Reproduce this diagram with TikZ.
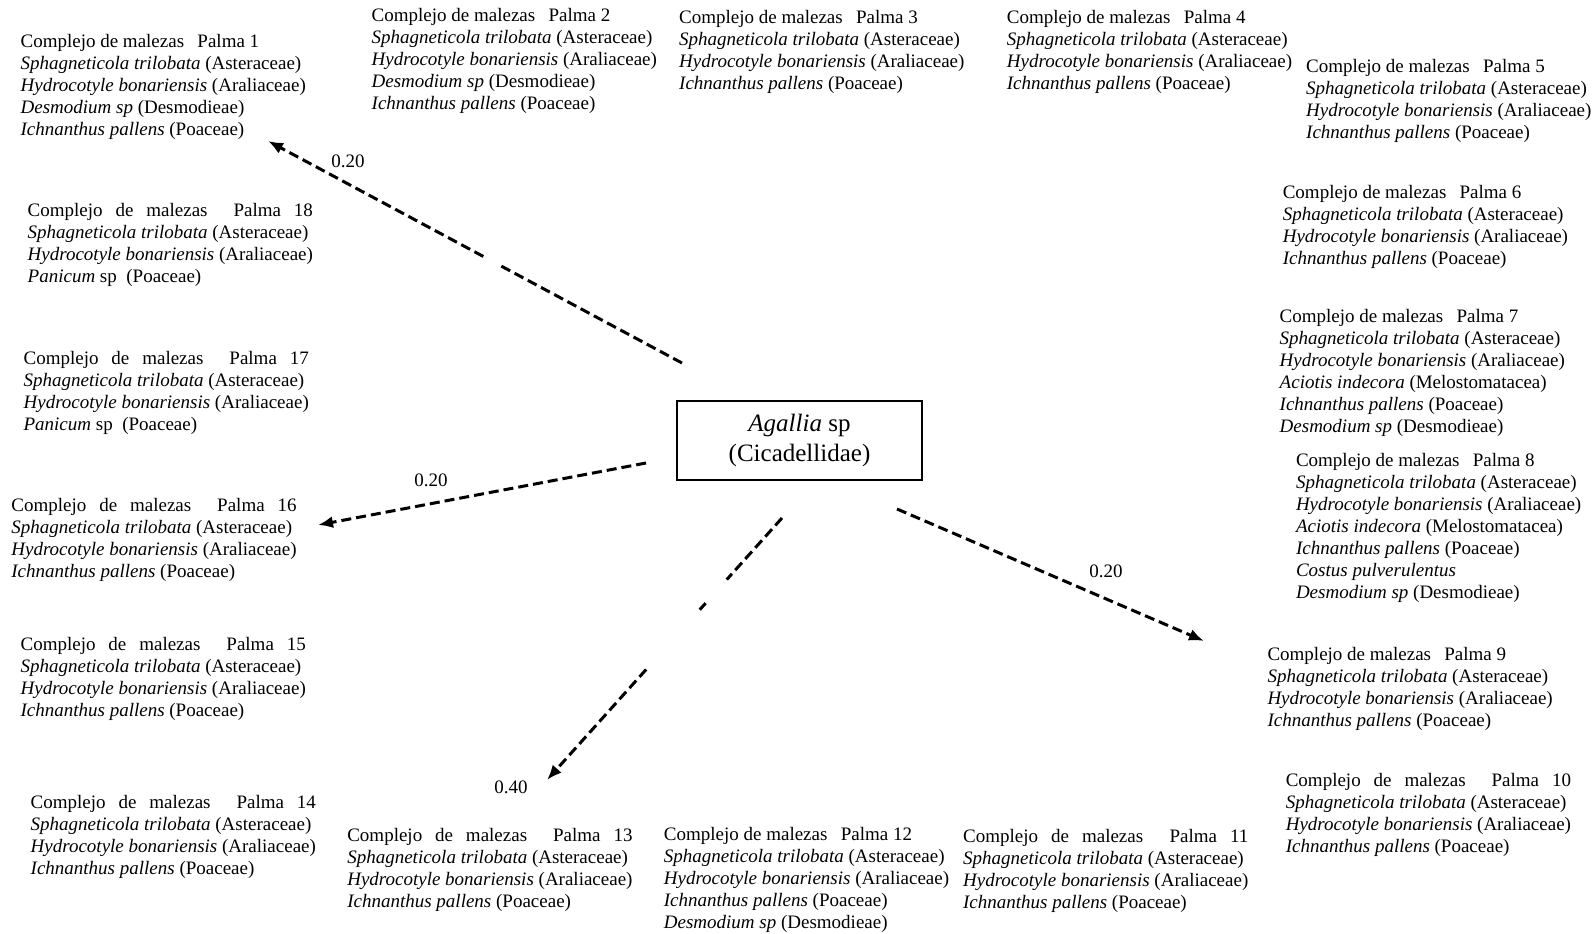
\documentclass[tikz,border=0pt]{standalone}
\usepackage{fontspec}
\setmainfont{Liberation Serif}
\usetikzlibrary{arrows.meta,calc}

% species lines
\newcommand\Sl{\textit{Sphagneticola trilobata} (Asteraceae)}
\newcommand\Hl{\textit{Hydrocotyle bonariensis} (Araliaceae)}
\newcommand\Dl{\textit{Desmodium sp} (Desmodieae)}
\newcommand\Il{\textit{Ichnanthus pallens} (Poaceae)}
\newcommand\Al{\textit{Aciotis indecora} (Melostomatacea)}
\newcommand\Cl{\textit{Costus pulverulentus}}
\newcommand\Pl{\textit{Panicum} sp\ \ (Poaceae)}

% block headers: natural spacing, or spread to the block width
\newlength\hw
\newcommand\hdr[1]{Complejo de malezas\hspace{0.7em}Palma #1}
\newcommand\hdrj[1]{\makebox[\hw][s]{\spaceskip=0.25em plus 1fil
  Complejo de malezas\hspace{0.25em plus 2.6fil}Palma #1}}
\newcommand\blkt[1]{\begin{tabular}[t]{@{}l@{}}#1\end{tabular}}

\begin{document}
\settowidth\hw{\fontsize{19}{22}\selectfont\Hl}
\begin{tikzpicture}[x=1pt,y=-1pt,
  blk/.style={anchor=base west, inner sep=0pt, font=\fontsize{19}{22}\selectfont},
  wlabel/.style={inner sep=0pt, font=\fontsize{19}{22}\selectfont},
  dline/.style={line width=3pt, dash pattern=on 10pt off 5pt},
  link/.style={dline, -{Latex[length=15pt,width=12pt]}}]
\useasboundingbox (0,0) rectangle (1596,934);

% central taxon
\node[draw, line width=1.8pt, minimum width=245pt, minimum height=79pt,
      inner sep=0pt, align=center, font=\fontsize{25}{30}\selectfont]
      (ag) at (799.5,440.5) {\textit{Agallia} sp\\(Cicadellidae)};

% weed complexes, palms 1--18
\node[blk] (p1)  at (20.4,47.8)   {\blkt{\hdr{1}\\\Sl\\\Hl\\\Dl\\\Il}};
\node[blk] (p2)  at (371.5,21.4)  {\blkt{\hdr{2}\\\Sl\\\Hl\\\Dl\\\Il}};
\node[blk] (p3)  at (679,23.4)    {\blkt{\hdr{3}\\\Sl\\\Hl\\\Il}};
\node[blk] (p4)  at (1006.7,23.4) {\blkt{\hdr{4}\\\Sl\\\Hl\\\Il}};
\node[blk] (p5)  at (1306,72.3)   {\blkt{\hdr{5}\\\Sl\\\Hl\\\Il}};
\node[blk] (p6)  at (1282.6,198.5){\blkt{\hdr{6}\\\Sl\\\Hl\\\Il}};
\node[blk] (p7)  at (1279.5,322.7){\blkt{\hdr{7}\\\Sl\\\Hl\\\Al\\\Il\\\Dl}};
\node[blk] (p8)  at (1295.8,466.2){\blkt{\hdr{8}\\\Sl\\\Hl\\\Al\\\Il\\\Cl\\\Dl}};
\node[blk] (p9)  at (1267.3,660.6){\blkt{\hdr{9}\\\Sl\\\Hl\\\Il}};
\node[blk] (p10) at (1285.6,786.8){\blkt{\hdrj{10}\\\Sl\\\Hl\\\Il}};
\node[blk] (p11) at (962.9,842.8) {\blkt{\hdrj{11}\\\Sl\\\Hl\\\Il}};
\node[blk] (p12) at (663.7,840.8) {\blkt{\hdr{12}\\\Sl\\\Hl\\\Il\\\Dl}};
\node[blk] (p13) at (347.1,841.8) {\blkt{\hdrj{13}\\\Sl\\\Hl\\\Il}};
\node[blk] (p14) at (30.5,808.2)  {\blkt{\hdrj{14}\\\Sl\\\Hl\\\Il}};
\node[blk] (p15) at (20.4,650.4)  {\blkt{\hdrj{15}\\\Sl\\\Hl\\\Il}};
\node[blk] (p16) at (11.2,511)    {\blkt{\hdrj{16}\\\Sl\\\Hl\\\Il}};
\node[blk] (p17) at (23.4,364.4)  {\blkt{\hdrj{17}\\\Sl\\\Hl\\\Pl}};
\node[blk] (p18) at (27.5,216.8)  {\blkt{\hdrj{18}\\\Sl\\\Hl\\\Pl}};

% arrow ends
\coordinate (s1) at (682,363);  \coordinate (t1) at (268,141);
\coordinate (s2) at (646,463);  \coordinate (t2) at (318,525);
\coordinate (s3) at (782,518);  \coordinate (t3) at (547,780);
\coordinate (s4) at (897,509);  \coordinate (t4) at (1204,641);

% dashed arrows (with breaks in the stroke)
\draw[dline] (s1) -- ($(s1)!0.44!(t1)$);
\draw[link]  ($(s1)!0.48!(t1)$) -- (t1);
\draw[link]  (s2) -- (t2);
\draw[dline] (s3) -- ($(s3)!0.235!(t3)$);
\draw[dline] ($(s3)!0.325!(t3)$) -- ($(s3)!0.35!(t3)$);
\draw[link]  ($(s3)!0.578!(t3)$) -- (t3);
\draw[link]  (s4) -- (t4);

% weights
\node[wlabel] (l1) at (348,161)  {0.20};
\node[wlabel] (l2) at (431,480)  {0.20};
\node[wlabel] (l3) at (511,787)  {0.40};
\node[wlabel] (l4) at (1106,571) {0.20};
\end{tikzpicture}
\end{document}
